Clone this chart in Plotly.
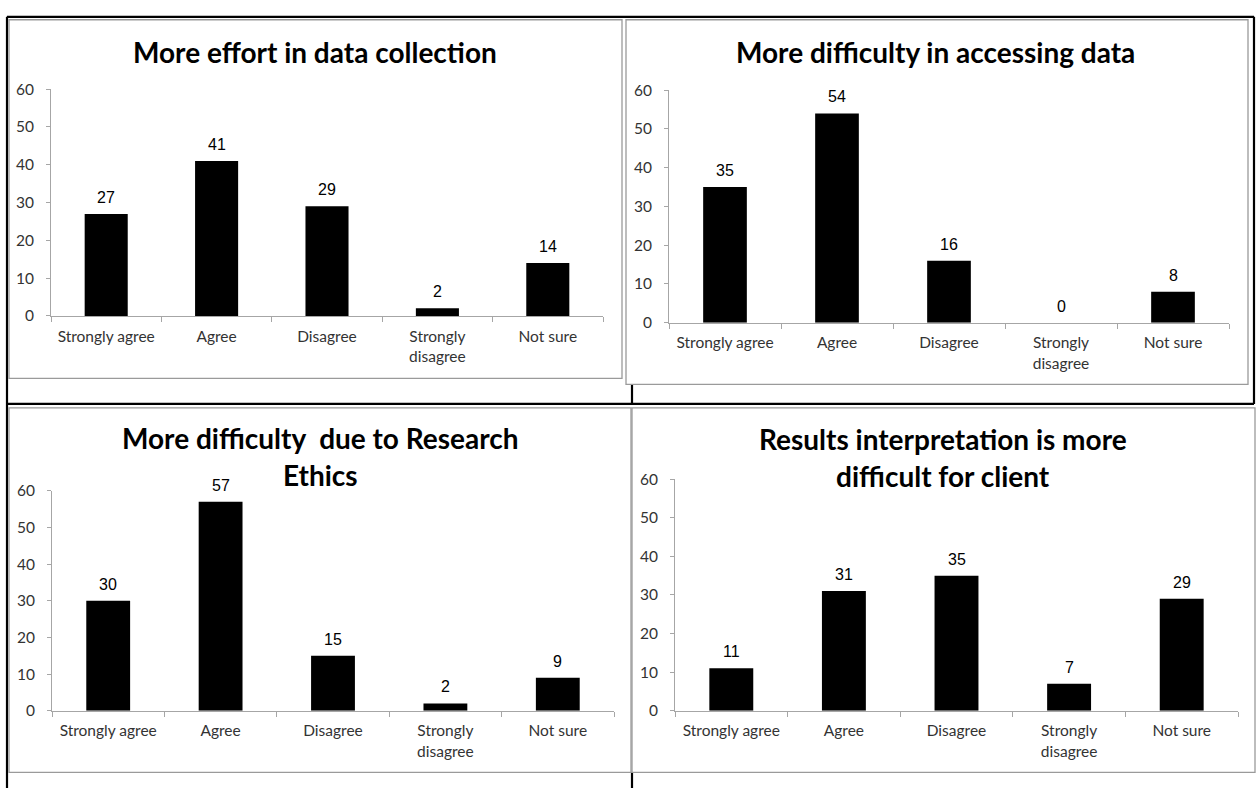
import plotly.graph_objects as go

W, H = 1256, 796

categories = ["Strongly agree", "Agree", "Disagree", "Strongly disagree", "Not sure"]
tick_labels = ["Strongly agree", "Agree", "Disagree", "Strongly<br>disagree", "Not sure"]

effort_data_collection = [27, 41, 29, 2, 14]
difficulty_accessing_data = [35, 54, 16, 0, 8]
difficulty_research_ethics = [30, 57, 15, 2, 9]
interpretation_for_client = [11, 31, 35, 7, 29]

titles = [
    ["More effort in data collection"],
    ["More difficulty in accessing data"],
    ["More difficulty  due to Research", "Ethics"],
    ["Results interpretation is more", "difficult for client"],
]
series = [effort_data_collection, difficulty_accessing_data,
          difficulty_research_ethics, interpretation_for_client]

# pixel layout of each panel: plot area (x0, x1, y_top, y_bottom), title centre x, title line ys
panels = [
    dict(plot=(51, 603, 81, 313), tx=315, ty=[43]),
    dict(plot=(669, 1229, 82, 320), tx=936, ty=[43]),
    dict(plot=(52, 614, 492, 717), tx=320, ty=[438, 476]),
    dict(plot=(675, 1238, 480, 717), tx=943, ty=[439, 477]),
]
boxes = [(9, 622, 10, 377), (626, 1248, 10, 383), (9, 631, 407, 780), (632, 1255, 407, 780)]


def px(x):
    return x / W


def py(y):
    return 1 - y / H


fig = go.Figure()
shapes = []
annotations = []

# table grid lines
black_lines = [
    (7, 7, 1254, 7), (7, 7, 7, 796), (1254, 7, 1254, 403),
    (7, 403, 1254, 403), (632, 383, 632, 403), (632, 780, 632, 796),
]
for x0, y0, x1, y1 in black_lines:
    shapes.append(dict(type="line", xref="paper", yref="paper",
                       x0=px(x0), y0=py(y0), x1=px(x1), y1=py(y1),
                       line=dict(color="black", width=2.2), layer="below"))

# chart frames
for x0, x1, y0, y1 in boxes:
    shapes.append(dict(type="rect", xref="paper", yref="paper",
                       x0=px(x0), y0=py(y1), x1=px(x1), y1=py(y0),
                       line=dict(color="#9a9a9a", width=1.3), fillcolor="white",
                       layer="below"))

label_font = dict(family="Lato", size=15.5, color="#333333")

for i, (p, vals, title) in enumerate(zip(panels, series, titles)):
    k = "" if i == 0 else str(i + 1)
    x0, x1, yt, yb = p["plot"]
    fig.add_trace(go.Bar(
        x=categories, y=vals, xaxis="x" + k, yaxis="y" + k,
        marker=dict(color="black", line=dict(width=0)), width=0.39,
        showlegend=False, hoverinfo="x+y",
    ))
    fig.update_layout(**{
        "xaxis" + k: dict(
            domain=[px(x0), px(x1)], anchor="y" + k, type="category",
            range=[-0.5, 4.5], showline=True, linecolor="#a6a6a6", linewidth=1,
            ticks="outside", tickson="boundaries", ticklen=5, tickcolor="#a6a6a6",
            tickmode="array", tickvals=categories, ticktext=tick_labels,
            tickfont=label_font, showgrid=False, zeroline=False, fixedrange=True,
            ticklabelstandoff=6,
        ),
        "yaxis" + k: dict(
            domain=[py(yb), py(yt)], anchor="x" + k, range=[0, 60],
            tickvals=[0, 10, 20, 30, 40, 50, 60], showline=True,
            linecolor="#a6a6a6", linewidth=1, ticks="outside", ticklen=4,
            tickcolor="#a6a6a6", tickfont=label_font, showgrid=False,
            zeroline=False, fixedrange=True, ticklabelstandoff=9,
        ),
    })
    # value labels above bars
    for c, v in zip(categories, vals):
        annotations.append(dict(
            x=c, y=v, xref="x" + k, yref="y" + k, text=str(v),
            showarrow=False, yanchor="bottom", yshift=6,
            font=dict(family="Liberation Sans", size=16, color="black"),
        ))
    # chart title
    for line, ty in zip(title, p["ty"]):
        annotations.append(dict(
            x=px(p["tx"]), y=py(ty), xref="paper", yref="paper", text=line,
            showarrow=False, xanchor="center", yanchor="middle",
            font=dict(family="Lato", size=28, color="black", weight="bold"),
        ))

fig.update_layout(
    width=W, height=H, margin=dict(l=0, r=0, t=0, b=0),
    paper_bgcolor="white", plot_bgcolor="rgba(0,0,0,0)",
    shapes=shapes, annotations=annotations, bargap=0.61,
)

fig.write_html("out.html")
